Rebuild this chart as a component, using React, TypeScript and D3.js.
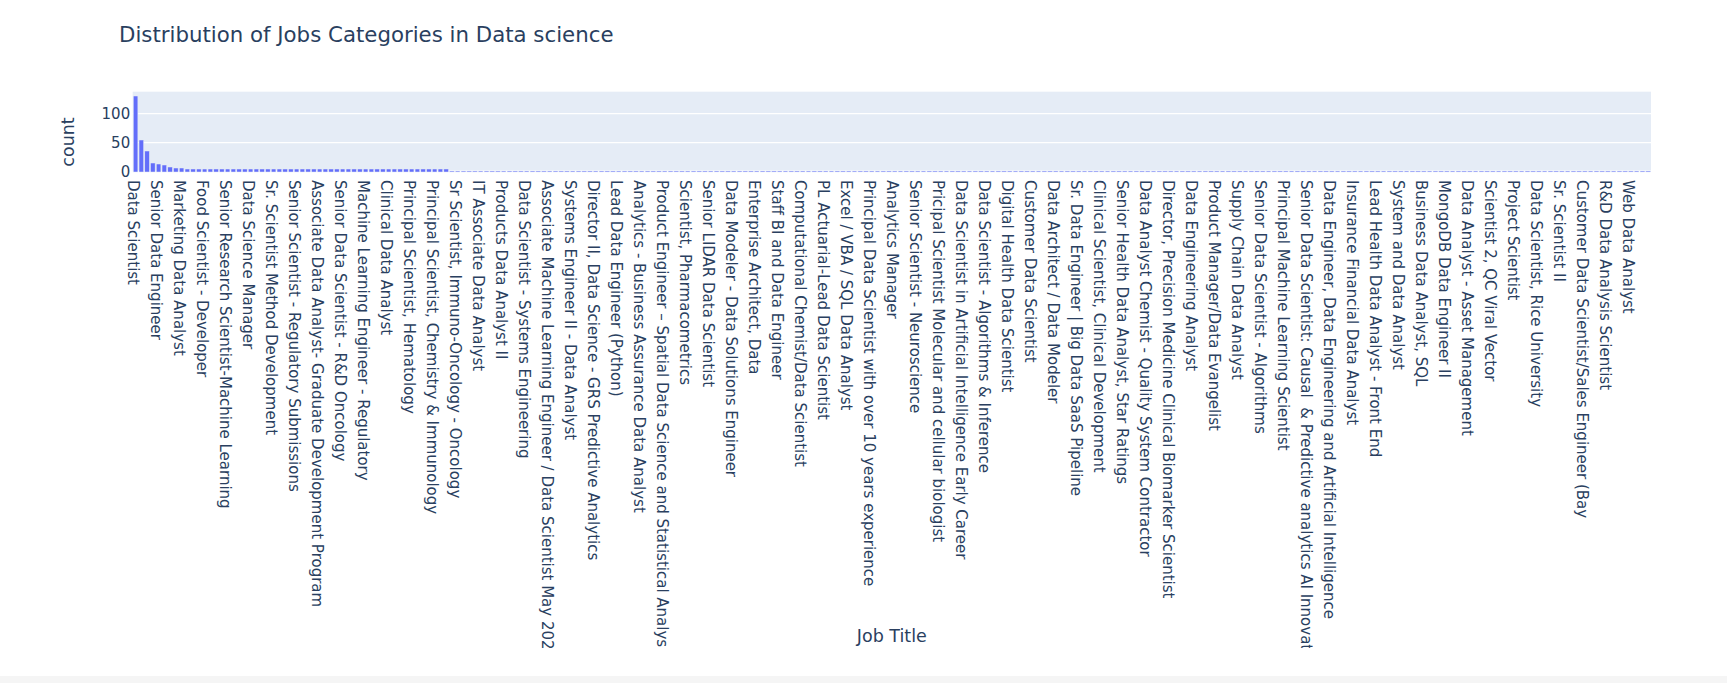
import * as d3 from "d3";

// job titles shown on the x axis (plotly labels every 4th category)
const tickLabels = [
  "Data Scientist",
  "Senior Data Engineer",
  "Marketing Data Analyst",
  "Food Scientist - Developer",
  "Senior Research Scientist-Machine Learning",
  "Data Science Manager",
  "Sr. Scientist Method Development",
  "Senior Scientist - Regulatory Submissions",
  "Associate Data Analyst- Graduate Development Program",
  "Senior Data Scientist - R&D Oncology",
  "Machine Learning Engineer - Regulatory",
  "Clinical Data Analyst",
  "Principal Scientist, Hematology",
  "Principal Scientist, Chemistry & Immunology",
  "Sr Scientist, Immuno-Oncology - Oncology",
  "IT Associate Data Analyst",
  "Products Data Analyst II",
  "Data Scientist - Systems Engineering",
  "Associate Machine Learning Engineer / Data Scientist May 2023",
  "Systems Engineer II - Data Analyst",
  "Director II, Data Science - GRS Predictive Analytics",
  "Lead Data Engineer (Python)",
  "Analytics - Business Assurance Data Analyst",
  "Product Engineer – Spatial Data Science and Statistical Analysis",
  "Scientist, Pharmacometrics",
  "Senior LIDAR Data Scientist",
  "Data Modeler - Data Solutions Engineer",
  "Enterprise Architect, Data",
  "Staff BI and Data Engineer",
  "Computational Chemist/Data Scientist",
  "PL Actuarial-Lead Data Scientist",
  "Excel / VBA / SQL Data Analyst",
  "Principal Data Scientist with over 10 years experience",
  "Analytics Manager",
  "Senior Scientist - Neuroscience",
  "Pricipal Scientist Molecular and cellular biologist",
  "Data Scientist in Artificial Intelligence Early Career",
  "Data Scientist - Algorithms & Inference",
  "Digital Health Data Scientist",
  "Customer Data Scientist",
  "Data Architect / Data Modeler",
  "Sr. Data Engineer | Big Data SaaS Pipeline",
  "Clinical Scientist, Clinical Development",
  "Senior Health Data Analyst, Star Ratings",
  "Data Analyst Chemist - Quality System Contractor",
  "Director, Precision Medicine Clinical Biomarker Scientist",
  "Data Engineering Analyst",
  "Product Manager/Data Evangelist",
  "Supply Chain Data Analyst",
  "Senior Data Scientist - Algorithms",
  "Principal Machine Learning Scientist",
  "Senior Data Scientist: Causal\u00a0 & Predictive analytics AI Innovation",
  "Data Engineer, Data Engineering and Artificial Intelligence",
  "Insurance Financial Data Analyst",
  "Lead Health Data Analyst - Front End",
  "System and Data Analyst",
  "Business Data Analyst, SQL",
  "MongoDB Data Engineer II",
  "Data Analyst - Asset Management",
  "Scientist 2, QC Viral Vector",
  "Project Scientist",
  "Data Scientist, Rice University",
  "Sr. Scientist II",
  "Customer Data Scientist/Sales Engineer (Bay",
  "R&D Data Analysis Scientist",
  "Web Data Analyst",
];

// count per job title, sorted descending (264 categories)
const counts = [
  131, 54, 35, 15, 14, 12, 8, 6, 6, 5, 5,
  4, 4, 4, 4, 4, 4, 4, 4, 4, 4, 4, 4, 4, 4, 4, 4, 4, 4, 4, 4, 4, 4,
  4, 4, 4, 4, 4, 4, 4, 4, 4, 4, 4, 4, 4, 4, 4, 4, 4, 4, 4, 4, 4, 4,
  1, 1, 1, 1, 1, 1, 1, 1, 1, 1, 1, 1, 1, 1, 1, 1, 1, 1, 1, 1, 1, 1, 1, 1, 1, 1, 1, 1, 1, 1,
  1, 1, 1, 1, 1, 1, 1, 1, 1, 1, 1, 1, 1, 1, 1, 1, 1, 1, 1, 1, 1, 1, 1, 1, 1, 1, 1, 1, 1, 1,
  1, 1, 1, 1, 1, 1, 1, 1, 1, 1, 1, 1, 1, 1, 1, 1, 1, 1, 1, 1, 1, 1, 1, 1, 1, 1, 1, 1, 1, 1,
  1, 1, 1, 1, 1, 1, 1, 1, 1, 1, 1, 1, 1, 1, 1, 1, 1, 1, 1, 1, 1, 1, 1, 1, 1, 1, 1, 1, 1, 1,
  1, 1, 1, 1, 1, 1, 1, 1, 1, 1, 1, 1, 1, 1, 1, 1, 1, 1, 1, 1, 1, 1, 1, 1, 1, 1, 1, 1, 1, 1,
  1, 1, 1, 1, 1, 1, 1, 1, 1, 1, 1, 1, 1, 1, 1, 1, 1, 1, 1, 1, 1, 1, 1, 1, 1, 1, 1, 1, 1, 1,
  1, 1, 1, 1, 1, 1, 1, 1, 1, 1, 1, 1, 1, 1, 1, 1, 1, 1, 1, 1, 1, 1, 1, 1, 1, 1, 1, 1, 1,
];

const yTicks = [0, 50, 100];
const TICK_EVERY = 4;

const FONT = '"DejaVu Sans", verdana, arial, sans-serif';
const TEXT = "#2a3f5f";

export default function App() {
  const width = 1727;
  const height = 683;
  const plot = { left: 132.7, right: 1651, top: 91.7, bottom: 171.7 };

  const x = d3
    .scaleBand<number>()
    .domain(d3.range(counts.length))
    .range([plot.left, plot.right])
    .paddingInner(0.2)
    .paddingOuter(0.1);

  const yMax = (d3.max(counts) ?? 1) * 1.05;
  const y = d3.scaleLinear().domain([0, yMax]).range([plot.bottom, plot.top]);

  return (
    <svg
      width={width}
      height={height}
      style={{ position: "absolute", left: 0, top: 0, background: "#fff" }}
      fontFamily={FONT}
    >
      <defs>
        <clipPath id="labelClip">
          <rect x={0} y={0} width={width} height={648} />
        </clipPath>
      </defs>

      {/* page strip below the figure */}
      <rect x={0} y={676} width={width} height={height - 676} fill="#f5f5f5" />

      {/* plot background */}
      <rect
        x={plot.left}
        y={plot.top}
        width={plot.right - plot.left}
        height={plot.bottom - plot.top}
        fill="#E5ECF6"
      />

      {/* grid */}
      {yTicks.map((t) => (
        <line
          key={t}
          x1={plot.left}
          x2={plot.right}
          y1={y(t)}
          y2={y(t)}
          stroke="#fff"
          strokeWidth={t === 0 ? 2.5 : 1.25}
        />
      ))}

      {/* bars */}
      {counts.map((c, i) => {
        const base = Math.round(y(0));
        const h = Math.max(1, base - Math.round(y(c)));
        return (
          <rect
            key={i}
            x={x(i)}
            y={base - h}
            width={x.bandwidth()}
            height={h}
            fill="#636efa"
            stroke="#E5ECF6"
            strokeWidth={0.5}
          />
        );
      })}

      {/* y tick labels */}
      {yTicks.map((t) => (
        <text
          key={t}
          x={plot.left - 2.5}
          y={y(t)}
          dy="0.35em"
          textAnchor="end"
          fontSize={15}
          fill={TEXT}
        >
          {t}
        </text>
      ))}

      {/* x tick labels */}
      <g clipPath="url(#labelClip)">
        {tickLabels.map((label, k) => {
          const i = k * TICK_EVERY;
          const cx = (x(i) ?? 0) + x.bandwidth() / 2;
          return (
            <text
              key={k}
              transform={`translate(${cx - 8},180) rotate(90)`}
              fontSize={15}
              fill={TEXT}
            >
              {label}
            </text>
          );
        })}
      </g>

      {/* title */}
      <text x={119} y={42} fontSize={21.3} fill={TEXT}>
        Distribution of Jobs Categories in Data science
      </text>

      {/* axis titles */}
      <text
        x={(plot.left + plot.right) / 2}
        y={642}
        textAnchor="middle"
        fontSize={17.5}
        fill={TEXT}
      >
        Job Title
      </text>
      <text
        transform={`translate(74,142) rotate(-90)`}
        textAnchor="middle"
        fontSize={17.5}
        fill={TEXT}
      >
        count
      </text>
    </svg>
  );
}
